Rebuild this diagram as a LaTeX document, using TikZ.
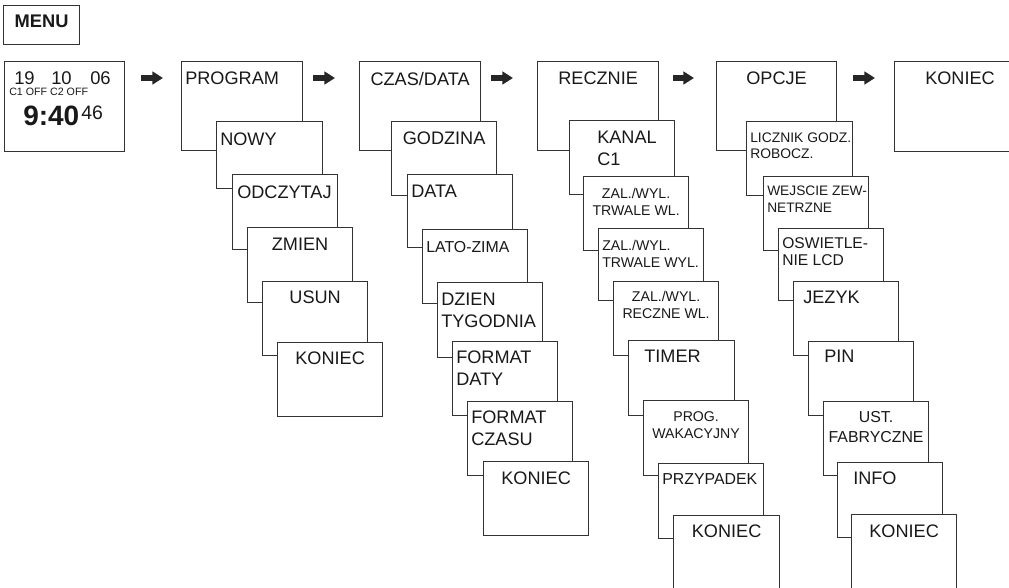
\documentclass[tikz,border=0pt]{standalone}
\usepackage{fontspec}
\setmainfont{Liberation Sans}
\usetikzlibrary{calc,arrows.meta}
\tikzset{
  scr/.style={draw=black!80, line width=0.9pt, fill=white, inner sep=0pt, anchor=north west},
  lbl/.style={inner sep=0pt, text=black!90, font=\fontsize{13.6}{16.5}\selectfont},
  sml/.style={lbl, font=\fontsize{10.6}{12.75}\selectfont},
  mid/.style={lbl, font=\fontsize{11.9}{14.5}\selectfont},
  nav/.style={line width=4pt, black!85, -{Triangle[length=8pt, width=9.5pt]}}
}
% one screen of the menu, given by its corners in pixels
\newcommand\screen[5]{\node[scr, minimum width={(#4-#2)*0.75pt}, minimum height={(#5-#3)*0.75pt}] (#1) at (#2,#3) {};}
\begin{document}
\begin{tikzpicture}[x=0.75pt, y=-0.75pt]
			%%%%% START %%%%%
			\useasboundingbox (0,0) rectangle (1009,588);
			\clip (0,0) rectangle (1009,588);
			
			\screen{menu}{3}{5}{79}{44}
			\node[lbl, anchor=north, font=\fontsize{13.7}{16}\selectfont\bfseries] (menu-t) at ($(menu.north)+(0,10)$) {MENU};
			
			% display
			\screen{disp}{4}{61}{124}{151}
			\node[lbl, anchor=north west, font=\fontsize{13.8}{14}\selectfont] (d-day) at (14,71) {19};
			\node[lbl, anchor=north west, font=\fontsize{13.8}{14}\selectfont] (d-mon) at (51,71) {10};
			\node[lbl, anchor=north west, font=\fontsize{13.8}{14}\selectfont] (d-yr) at (90,71) {06};
			\node[lbl, anchor=north west, font=\fontsize{8}{9}\selectfont] (d-ch) at (9,88) {C1 OFF C2 OFF};
			\node[lbl, anchor=north west, font=\fontsize{21}{24}\selectfont\bfseries] (d-time) at (23,106) {9:40};
			\node[lbl, anchor=north west, font=\fontsize{14.6}{16}\selectfont] (d-sec) at (81,106) {46};
			
			% PROGRAM
			\screen{prog}{181}{61}{302}{150}
			\node[lbl, anchor=north west] (prog-t) at ($(prog.north west)+(4,11)$) {PROGRAM};
			\screen{nowy}{216}{121}{322}{188}
			\node[lbl, anchor=north west] (nowy-t) at ($(nowy.north west)+(4,12)$) {NOWY};
			\screen{odcz}{232}{174}{337}{249}
			\node[lbl, anchor=north west] (odcz-t) at ($(odcz.north west)+(5,12)$) {ODCZYTAJ};
			\screen{zmien}{247}{227}{352}{302}
			\node[lbl, anchor=north] (zmien-t) at ($(zmien.north)+(0,11)$) {ZMIEN};
			\screen{usun}{262}{281}{367}{355}
			\node[lbl, anchor=north] (usun-t) at ($(usun.north)+(0,10)$) {USUN};
			\screen{kon1}{277}{342}{382}{416}
			\node[lbl, anchor=north] (kon1-t) at ($(kon1.north)+(0,10)$) {KONIEC};
			
			% CZAS/DATA
			\screen{czas}{359}{61}{480}{150}
			\node[lbl, anchor=north] (czas-t) at ($(czas.north)+(0,11)$) {CZAS/DATA};
			\screen{godz}{391}{121}{496}{195}
			\node[lbl, anchor=north] (godz-t) at ($(godz.north)+(0,11)$) {GODZINA};
			\screen{data}{407}{174}{512}{247}
			\node[lbl, anchor=north west] (data-t) at ($(data.north west)+(4,11)$) {DATA};
			\screen{lato}{422}{229}{527}{303}
			\node[mid, anchor=north west] (lato-t) at ($(lato.north west)+(4,12)$) {LATO-ZIMA};
			\screen{dzien}{437}{282}{542}{357}
			\node[lbl, anchor=north west, align=left] (dzien-t) at ($(dzien.north west)+(4,11)$) {DZIEN\\TYGODNIA};
			\screen{fdaty}{452}{341}{557}{415}
			\node[lbl, anchor=north west, align=left] (fdaty-t) at ($(fdaty.north west)+(4,10)$) {FORMAT\\DATY};
			\screen{fczasu}{467}{401}{572}{475}
			\node[lbl, anchor=north west, align=left] (fczasu-t) at ($(fczasu.north west)+(4,10)$) {FORMAT\\CZASU};
			\screen{kon2}{483}{461}{588}{535}
			\node[lbl, anchor=north] (kon2-t) at ($(kon2.north)+(0,11)$) {KONIEC};
			
			% RECZNIE
			\screen{reczn}{537}{61}{658}{150}
			\node[lbl, anchor=north] (reczn-t) at ($(reczn.north)+(0,11)$) {RECZNIE};
			\screen{kanal}{569}{120}{674}{194}
			\node[lbl, anchor=north west, align=left] (kanal-t) at ($(kanal.north west)+(28,11)$) {KANAL\\C1};
			\screen{trwl}{583}{176}{688}{250}
			\node[sml, anchor=north, align=center] (trwl-t) at ($(trwl.north)+(0,12)$) {ZAL./WYL.\\TRWALE WL.};
			\screen{trwyl}{598}{228}{703}{300}
			\node[sml, anchor=north west, align=left] (trwyl-t) at ($(trwyl.north west)+(4,12)$) {ZAL./WYL.\\TRWALE WYL.};
			\screen{reczwl}{613}{281}{718}{355}
			\node[sml, anchor=north, align=center] (reczwl-t) at ($(reczwl.north)+(0,10)$) {ZAL./WYL.\\RECZNE WL.};
			\screen{timer}{628}{340}{734}{415}
			\node[lbl, anchor=north west] (timer-t) at ($(timer.north west)+(16,10)$) {TIMER};
			\screen{progw}{643}{400}{748}{475}
			\node[sml, anchor=north, align=center] (progw-t) at ($(progw.north)+(0,11)$) {PROG.\\WAKACYJNY};
			\screen{przyp}{658}{463}{763}{538}
			\node[mid, anchor=north west] (przyp-t) at ($(przyp.north west)+(4,10)$) {PRZYPADEK};
			\screen{kon3}{673}{515}{779}{600}
			\node[lbl, anchor=north] (kon3-t) at ($(kon3.north)+(0,10)$) {KONIEC};
			
			% OPCJE
			\screen{opcje}{716}{61}{836}{150}
			\node[lbl, anchor=north] (opcje-t) at ($(opcje.north)+(0,11)$) {OPCJE};
			\screen{licz}{746}{121}{852}{195}
			\node[sml, anchor=north west, align=left, font=\fontsize{10.4}{12}\selectfont] (licz-t) at ($(licz.north west)+(4,12)$) {LICZNIK GODZ.\\ROBOCZ.};
			\screen{wejs}{763}{176}{868}{250}
			\node[sml, anchor=north west, align=left, font=\fontsize{10.3}{12.75}\selectfont] (wejs-t) at ($(wejs.north west)+(4,10)$) {WEJSCIE ZEW-\\NETRZNE};
			\screen{oswi}{778}{228}{883}{300}
			\node[mid, anchor=north west, align=left, font=\fontsize{11.7}{12.8}\selectfont] (oswi-t) at ($(oswi.north west)+(4,9)$) {OSWIETLE-\\NIE LCD};
			\screen{jezyk}{793}{281}{898}{355}
			\node[lbl, anchor=north west] (jezyk-t) at ($(jezyk.north west)+(10,10)$) {JEZYK};
			\screen{pin}{808}{341}{913}{415}
			\node[lbl, anchor=north west] (pin-t) at ($(pin.north west)+(16,9)$) {PIN};
			\screen{ust}{823}{401}{928}{475}
			\node[mid, anchor=north, align=center, font=\fontsize{11.9}{15}\selectfont] (ust-t) at ($(ust.north)+(0,10)$) {UST.\\FABRYCZNE};
			\screen{info}{837}{462}{942}{537}
			\node[lbl, anchor=north west] (info-t) at ($(info.north west)+(16,10)$) {INFO};
			\screen{kon4}{851}{514}{956}{600}
			\node[lbl, anchor=north] (kon4-t) at ($(kon4.north)+(0,11)$) {KONIEC};
			
			% KONIEC
			\screen{kon5}{894}{61}{1020}{151}
			\node[lbl, anchor=north] (kon5-t) at ($(kon5.north west)+(66,11)$) {KONIEC};
			
			% arrows between the screens
			\draw[nav] ($(disp.north east)+(16,17)$) -- ($(prog.north west)+(-18,17)$);
			\draw[nav] ($(prog.north east)+(10,17)$) -- ($(czas.north west)+(-24,17)$);
			\draw[nav] ($(czas.north east)+(10,17)$) -- ($(reczn.north west)+(-24,17)$);
			\draw[nav] ($(reczn.north east)+(14,17)$) -- ($(opcje.north west)+(-22,17)$);
			\draw[nav] ($(opcje.north east)+(16,17)$) -- ($(kon5.north west)+(-19,17)$);
			
			%%%%% END %%%%%
\end{tikzpicture}
\end{document}
